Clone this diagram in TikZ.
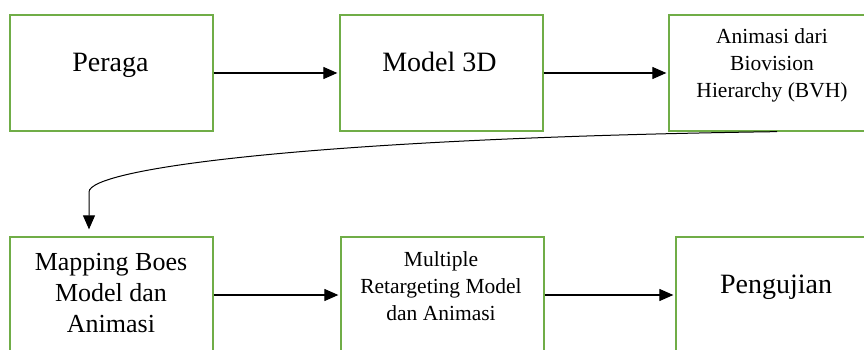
\documentclass[tikz,border=0pt]{standalone}
\usepackage{fontspec}
\setmainfont{Liberation Serif}
\usetikzlibrary{arrows.meta}
\definecolor{hijau}{RGB}{112,173,71}
\tikzset{
  kotak/.style={draw=hijau, line width=1.3pt, minimum width=203pt, minimum height=116pt, inner sep=0pt},
  panah/.style={line width=1.2pt, -{Triangle[length=14pt,width=12pt]}, shorten >=2pt},
  besar/.style={font=\fontsize{28}{32}\selectfont, inner sep=0pt},
  sedang/.style={font=\fontsize{26}{31}\selectfont, align=center, inner sep=0pt},
  kecil/.style={font=\fontsize{21.5}{27}\selectfont, align=center, inner sep=0pt},
}
\begin{document}
\begin{tikzpicture}[x=1pt,y=-1pt]
   \useasboundingbox (0,0) rectangle (864,350);

   % baris atas
   \node[kotak] (peraga) at (111.5,73) {};
   \node[kotak] (model) at (441.5,73) {};
   \node[kotak] (bvh) at (770.5,73) {};
   \node[besar, anchor=base] (tperaga) at (110.5,72) {Peraga};
   \node[besar, anchor=base] (tmodel) at (439.5,72) {Model 3D};
   \node[kecil, anchor=base] (tbvh) at (772,98) {Animasi dari\\ Biovision\\ Hierarchy (BVH)};

   % baris bawah
   \node[kotak] (mapping) at (111.5,295) {};
   \node[kotak] (retarget) at (442.5,295) {};
   \node[kotak] (uji) at (777.5,295) {};
   \node[sedang, anchor=base] (tmapping) at (111,332) {Mapping Boes\\ Model dan\\ Animasi};
   \node[kecil, anchor=base] (tretarget) at (441,320) {Multiple\\ Retargeting Model\\ dan Animasi};
   \node[besar, anchor=base] (tuji) at (776,293) {Pengujian};

   % panah
   \draw[panah] (peraga.east) -- (model.west);
   \draw[panah] (model.east) -- (bvh.west);
   \draw[panah] (mapping.east) -- (retarget.west);
   \draw[panah] (retarget.east) -- (uji.west);
   \draw[panah, line width=1pt, shorten >=7pt] ([xshift=6.5pt]bvh.south) .. controls (320,138) and (89,168) .. (89,192) -- ([xshift=-22.5pt]mapping.north);
\end{tikzpicture}
\end{document}
